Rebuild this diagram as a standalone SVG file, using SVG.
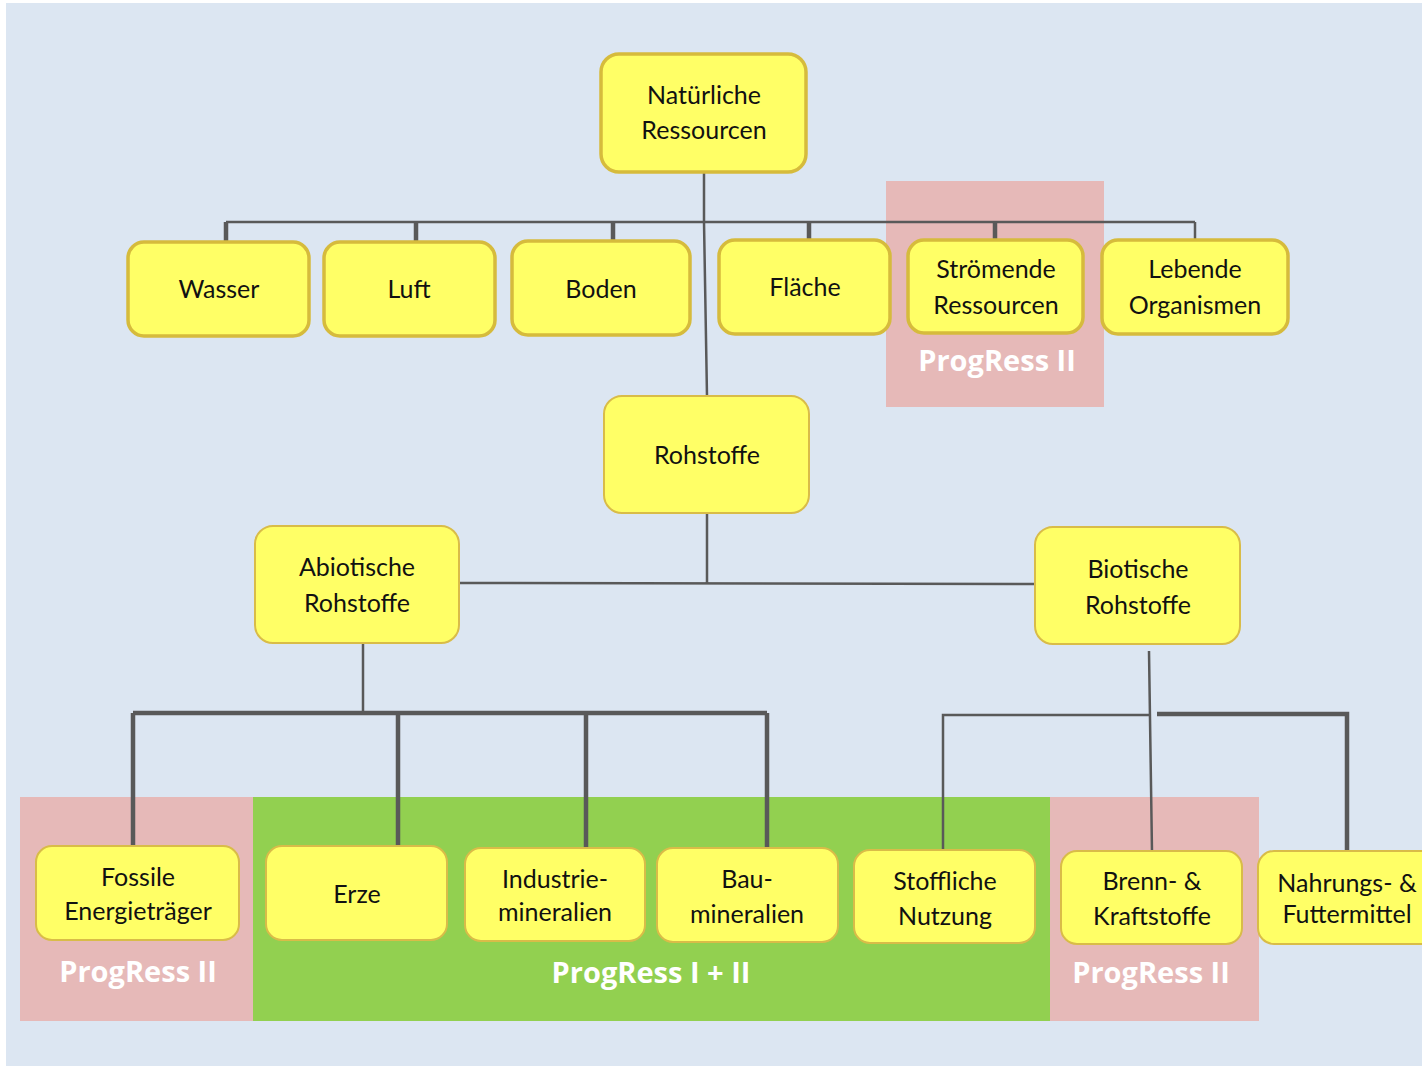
<svg xmlns="http://www.w3.org/2000/svg" width="1422" height="1066" viewBox="0 0 1422 1066">
<style>
.bg{fill:#dce6f2}
.pink{fill:#e6b9b8}
.green{fill:#92d050}
.n{fill:#ffff66;stroke:#d6bb3c;stroke-width:3.5}
.s{fill:#ffff66;stroke:#d9bc48;stroke-width:2}
.t{font-family:Lato,"Open Sans",sans-serif;font-size:25px;fill:#111;text-anchor:middle}
.p{font-family:"Open Sans",Lato,sans-serif;font-size:29px;font-weight:bold;fill:#fff;text-anchor:middle}
.l{stroke:#595959;fill:none;stroke-width:2.5}
.k{stroke:#595959;fill:none;stroke-width:4.5}
</style>
<rect class="bg" x="6" y="3" width="1416" height="1063"/>
<g id="zones">
<rect class="pink" x="886" y="181" width="218" height="226"/>
<rect class="pink" x="20" y="797" width="233" height="224"/>
<rect class="green" x="253" y="797" width="797" height="224"/>
<rect class="pink" x="1050" y="797" width="209" height="224"/>
<text class="p" x="997" y="371">ProgRess II</text>
<text class="p" x="138" y="982">ProgRess II</text>
<text class="p" x="651" y="983">ProgRess I + II</text>
<text class="p" x="1151" y="983">ProgRess II</text>
</g>
<g id="connectors">
<path class="l" d="M704 172 L704 222 L707 396"/>
<path class="l" d="M226 222 L1195 222"/>
<path class="k" d="M226 222 L226 241 M416 222 L416 241 M613 222 L613 240 M809 222 L809 239 M995 222 L995 239"/>
<path class="l" d="M1195 222 L1195 239"/>
<path class="l" d="M707 513 L707 583 M459 583 L1035 584"/>
<path class="l" d="M363 643 L363 713"/>
<path class="k" d="M133 713 L767 713 M133 713 L133 845 M398 713 L398 845 M586 713 L586 848 M767 713 L767 848"/>
<path class="l" d="M1149 651 L1152 852 M943 851 L943 715 L1150 715"/>
<path class="k" d="M1157 714 L1347 714 L1347 855"/>
</g>
<g id="natuerliche"><rect class="n" x="601" y="54" width="205" height="118" rx="18"/><text class="t" x="704" y="104">Natürliche</text><text class="t" x="704" y="139">Ressourcen</text></g>
<g id="wasser"><rect class="n" x="128" y="242" width="181" height="94" rx="16"/><text class="t" x="219" y="298">Wasser</text></g>
<g id="luft"><rect class="n" x="324" y="242" width="171" height="94" rx="16"/><text class="t" x="409" y="298">Luft</text></g>
<g id="boden"><rect class="n" x="512" y="241" width="178" height="94" rx="16"/><text class="t" x="601" y="298">Boden</text></g>
<g id="flaeche"><rect class="n" x="719" y="240" width="171" height="94" rx="16"/><text class="t" x="805" y="296">Fläche</text></g>
<g id="stroemende"><rect class="n" x="908" y="240" width="175" height="93" rx="16"/><text class="t" x="996" y="278">Strömende</text><text class="t" x="996" y="314">Ressourcen</text></g>
<g id="lebende"><rect class="n" x="1102" y="240" width="186" height="94" rx="16"/><text class="t" x="1195" y="278">Lebende</text><text class="t" x="1195" y="314">Organismen</text></g>
<g id="rohstoffe"><rect class="s" x="604" y="396" width="205" height="117" rx="18"/><text class="t" x="707" y="464">Rohstoffe</text></g>
<g id="abiotische"><rect class="s" x="255" y="526" width="204" height="117" rx="18"/><text class="t" x="357" y="576">Abiotische</text><text class="t" x="357" y="612">Rohstoffe</text></g>
<g id="biotische"><rect class="s" x="1035" y="527" width="205" height="117" rx="18"/><text class="t" x="1138" y="578">Biotische</text><text class="t" x="1138" y="614">Rohstoffe</text></g>
<g id="fossile"><rect class="s" x="36" y="846" width="203" height="94" rx="16"/><text class="t" x="138" y="886">Fossile</text><text class="t" x="138" y="920">Energieträger</text></g>
<g id="erze"><rect class="s" x="266" y="846" width="181" height="94" rx="16"/><text class="t" x="357" y="903">Erze</text></g>
<g id="industrie"><rect class="s" x="465" y="848" width="180" height="93" rx="16"/><text class="t" x="555" y="888">Industrie-</text><text class="t" x="555" y="921">mineralien</text></g>
<g id="bau"><rect class="s" x="657" y="848" width="181" height="94" rx="16"/><text class="t" x="747" y="888">Bau-</text><text class="t" x="747" y="923">mineralien</text></g>
<g id="stoffliche"><rect class="s" x="854" y="850" width="181" height="93" rx="16"/><text class="t" x="945" y="890">Stoffliche</text><text class="t" x="945" y="925">Nutzung</text></g>
<g id="brenn"><rect class="s" x="1061" y="851" width="181" height="93" rx="16"/><text class="t" x="1152" y="890">Brenn- &amp;</text><text class="t" x="1152" y="925">Kraftstoffe</text></g>
<g id="nahrung"><rect class="s" x="1258" y="851" width="180" height="93" rx="16"/><text class="t" x="1347" y="892">Nahrungs- &amp;</text><text class="t" x="1347" y="923">Futtermittel</text></g>
</svg>
